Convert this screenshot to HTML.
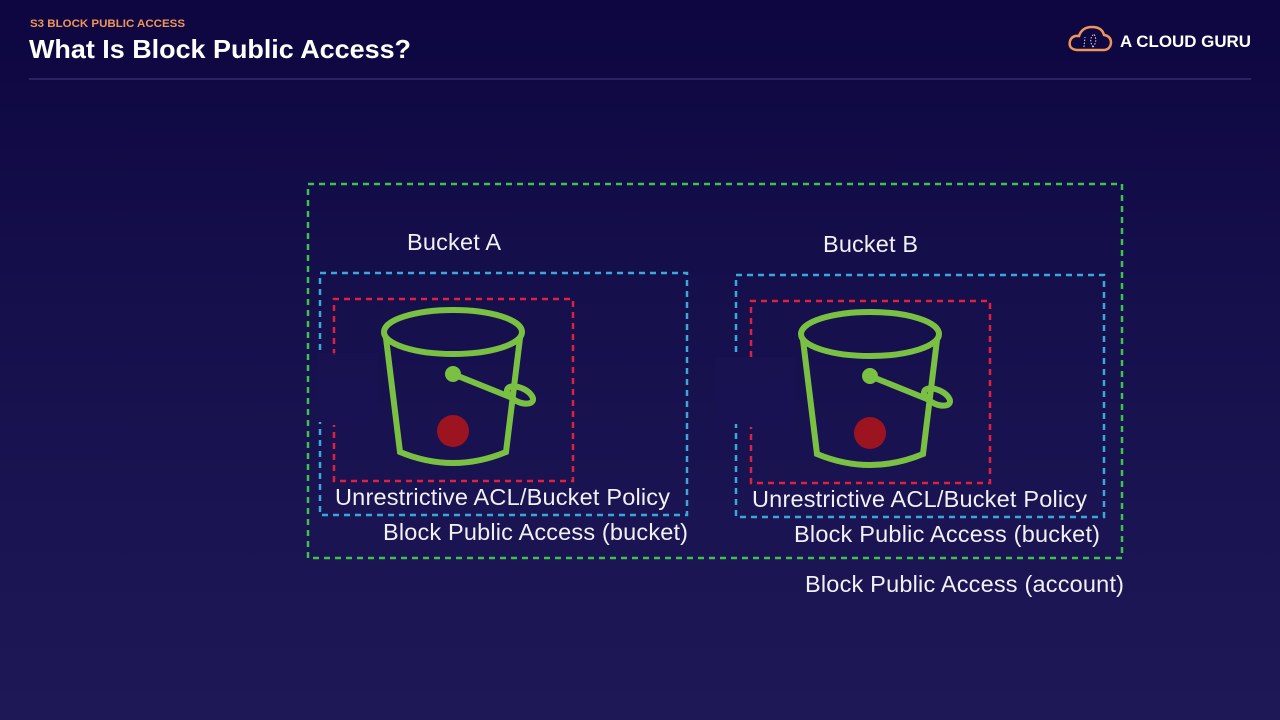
<!DOCTYPE html>
<html><head><meta charset="utf-8"><style>
html,body{margin:0;padding:0;width:1280px;height:720px;overflow:hidden}
body{background:linear-gradient(180deg,#0d0640 0%,#150f4c 40%,#1e1857 100%);font-family:"Liberation Sans",sans-serif}
</style></head><body>
<svg width="1280" height="720" xmlns="http://www.w3.org/2000/svg" style="position:absolute;left:0;top:0">
<text x="30" y="27" fill="#f0955a" font-size="11" font-weight="bold" font-family="Liberation Sans,sans-serif" textLength="155" lengthAdjust="spacingAndGlyphs">S3 BLOCK PUBLIC ACCESS</text>
<text x="29" y="58" fill="#fff" font-size="26" font-weight="bold" font-family="Liberation Sans,sans-serif" textLength="382" lengthAdjust="spacingAndGlyphs">What Is Block Public Access?</text>
<line x1="29" y1="79" x2="1251" y2="79" stroke="#2a2462" stroke-width="2"/>
<!-- logo -->
<path d="M1077 50 Q1068 49 1070 41 Q1072 35 1079 36 Q1082 27 1092 27 Q1102 27 1104 35 Q1111 36 1111 43 Q1110 50 1103 50 Z" fill="none" stroke="#f0955a" stroke-width="2.5"/>
<path d="M1084 47 L1085 37 M1093 47 Q1088 39 1094 34 Q1098 41 1093 47" fill="none" stroke="#e8d6c0" stroke-width="1" stroke-dasharray="1.5 1.5"/>
<text x="1120" y="47" fill="#fff" font-size="17" font-weight="bold" font-family="Liberation Sans,sans-serif" textLength="131" lengthAdjust="spacingAndGlyphs">A CLOUD GURU</text>

<g fill="none" stroke-width="2.5" stroke-dasharray="6 5">
<rect x="308" y="184" width="814" height="374" stroke="#3fc24a"/>
<path d="M320 350 V273 H687 V515 H320 V422" stroke="#3aa8d8"/>
<path d="M334 355 V299 H573 V481 H334 V425" stroke="#e0213d"/>
<path d="M736 352 V275 H1104 V517 H736 V424" stroke="#3aa8d8"/>
<path d="M751 357 V301 H990 V483 H751 V427" stroke="#e0213d"/>
</g>
<rect x="318" y="353" width="60" height="68" fill="#1a1352" opacity="0.8"/>
<rect x="715" y="357" width="80" height="66" fill="#1a1352" opacity="0.8"/>

<g id="bk" fill="none" stroke="#7ac143" stroke-width="6" stroke-linecap="round">
<ellipse cx="453" cy="332" rx="69" ry="22"/>
<path d="M386 338 L400 452 Q453 474 506 452 L520 338"/>
<path d="M453 374 L510 397"/>
<ellipse cx="520" cy="395" rx="14" ry="7" transform="rotate(25 520 395)"/>
<circle cx="453" cy="374" r="5" fill="#7ac143"/>
</g>
<circle cx="453" cy="431" r="16" fill="#9b1420"/>
<use href="#bk" transform="translate(417,2)"/>
<circle cx="870" cy="433" r="16" fill="#9b1420"/>

<g fill="#f0f0f5" font-family="Liberation Sans,sans-serif" font-size="23.5" lengthAdjust="spacingAndGlyphs">
<text x="407" y="250" textLength="94">Bucket A</text>
<text x="823" y="252" textLength="95">Bucket B</text>
<text x="335" y="505" textLength="335">Unrestrictive ACL/Bucket Policy</text>
<text x="752" y="507" textLength="335">Unrestrictive ACL/Bucket Policy</text>
<text x="383" y="540" textLength="305">Block Public Access (bucket)</text>
<text x="794" y="542" textLength="306">Block Public Access (bucket)</text>
<text x="805" y="592" textLength="319">Block Public Access (account)</text>
</g>
</svg>
</body></html>
